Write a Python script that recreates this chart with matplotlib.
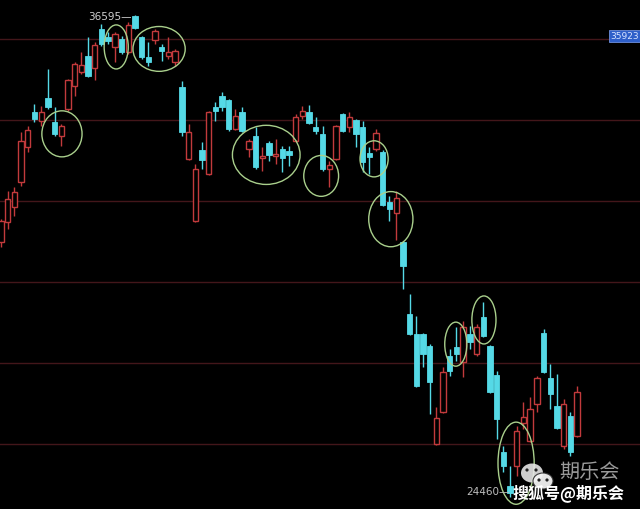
import matplotlib

matplotlib.use("Agg")
import matplotlib.pyplot as plt
from matplotlib.patches import Rectangle, Ellipse

plt.rcParams["font.family"] = ["Noto Sans CJK SC", "DejaVu Sans"]

# daily bars (price units)
OPEN = [30870, 31380, 31760, 32390, 33270, 34150, 33920, 34500, 33900, 33550,
        34230, 34810, 35160, 35560, 35260, 36240, 36040, 35790, 35990, 35660,
        36570, 36040, 35540, 35960, 35790, 35560, 35410, 34780, 32970, 31400,
        33190, 32590, 34280, 34550, 34450, 33720, 34150, 33220, 33550, 32990,
        33370, 33040, 33220, 33170, 33420, 34050, 34150, 33770, 33600, 32710,
        32970, 34100, 33770, 33950, 33770, 33120, 33220, 33140, 31880, 31610,
        30870, 29060, 28560, 28560, 28250, 25780, 26590, 28000, 28230, 27850,
        28560, 28050, 28980, 28250, 27520, 25580, 24730, 25230, 26310, 25860,
        26790, 28580, 27450, 26740, 25730, 26490, 25990]
HIGH = [31450, 32160, 32260, 33650, 33800, 34350, 34300, 35230, 34280, 33850,
        34980, 35410, 35660, 36040, 35910, 36370, 36170, 36170, 36070, 36420,
        36595, 36070, 35910, 36240, 35860, 36040, 35740, 34930, 33850, 32840,
        33390, 34180, 34400, 34650, 34480, 34230, 34280, 33470, 33770, 33270,
        33420, 33470, 33290, 33290, 34100, 34300, 34330, 34020, 33800, 32920,
        33820, 34120, 34150, 33970, 33920, 33270, 33720, 33190, 32030, 32160,
        30900, 29560, 29010, 28580, 28300, 26720, 27720, 28180, 28730, 28880,
        28760, 28810, 29360, 28270, 27620, 25730, 25230, 26240, 26840, 26970,
        27500, 28680, 27800, 27550, 26920, 26590, 27250]
LOW = [30750, 31200, 31530, 32290, 33140, 33900, 33800, 34230, 33550, 33290,
       34180, 34550, 35110, 35030, 34960, 35810, 35860, 35410, 35610, 35610,
       36240, 35490, 35310, 35860, 35440, 35490, 35310, 33550, 32950, 31380,
       32710, 32560, 33920, 34180, 33670, 33700, 33650, 33020, 32710, 32660,
       32920, 32840, 32640, 32790, 33390, 33970, 33850, 33600, 32660, 32260,
       32950, 33650, 33650, 33270, 32640, 32590, 33170, 31780, 31400, 30920,
       29690, 28540, 27230, 27720, 26540, 25760, 26570, 27500, 27880, 27470,
       28180, 28000, 28490, 27070, 25910, 25080, 24460, 24980, 26160, 25840,
       26590, 27580, 26670, 26160, 25660, 25480, 25960]
CLOSE = [31400, 31960, 32130, 33420, 33700, 33970, 34150, 34280, 33600, 33800,
         34960, 35360, 35330, 35060, 35840, 35860, 35940, 36120, 35660, 36340,
         36270, 35540, 35410, 36190, 35690, 35660, 35690, 33650, 33650, 32710,
         32940, 34150, 34180, 34280, 33720, 34050, 33670, 33420, 32760, 33040,
         33070, 33090, 32990, 33070, 34020, 34180, 33870, 33670, 32710, 32810,
         33800, 33670, 34020, 33600, 32890, 33020, 33620, 31810, 31710, 31980,
         30270, 28560, 27250, 28050, 27350, 26440, 27600, 27620, 28050, 28730,
         28350, 28730, 28510, 27090, 26410, 25230, 24550, 26110, 26460, 26670,
         27450, 27600, 27040, 26190, 26790, 25580, 27090]

GRID_LEVELS = [35990, 33950, 31910, 29870, 27830, 25790]
TAG_PRICE = 35923

# hand-drawn marks on the original: (centre bar, centre price, bars wide, price tall)
CIRCLES = [(9.1, 33600, 6.0, 1160), (17.2, 35790, 3.6, 1110),
           (23.6, 35740, 7.8, 1130), (39.6, 33070, 10.1, 1490),
           (47.8, 32540, 5.2, 1030), (55.7, 32970, 4.2, 910),
           (58.2, 31450, 6.6, 1390), (67.9, 28300, 3.3, 1110),
           (72.1, 28910, 3.6, 1210), (76.9, 25300, 5.4, 2070)]

UP = "#c23a3c"
DOWN = "#55d9e6"
BODY_W = 0.8

fig = plt.figure(figsize=(6.4, 5.1), dpi=100, facecolor="black")
ax = fig.add_axes([0, 0, 1, 1])
ax.set_facecolor("black")
ax.set_xlim(-0.15, 95.4)
ax.set_ylim(24146, 36998)
ax.axis("off")

for g in GRID_LEVELS:
    ax.axhline(g, color="#43161a", lw=1.0, zorder=1)

for i, (o, h, l, c) in enumerate(zip(OPEN, HIGH, LOW, CLOSE)):
    lo, hi = min(o, c), max(o, c)
    if c >= o:
        ax.vlines(i, l, lo, color=UP, lw=1.0, zorder=2)
        ax.vlines(i, hi, h, color=UP, lw=1.0, zorder=2)
        ax.add_patch(Rectangle((i - BODY_W / 2, lo), BODY_W, max(hi - lo, 20),
                               facecolor="black", edgecolor=UP, lw=1.0, zorder=3))
    else:
        ax.vlines(i, l, h, color=DOWN, lw=1.0, zorder=2)
        ax.add_patch(Rectangle((i - BODY_W / 2, lo), BODY_W, max(hi - lo, 20),
                               facecolor=DOWN, edgecolor=DOWN, lw=0.6, zorder=3))

for cx, cy, w, h in CIRCLES:
    ax.add_patch(Ellipse((cx, cy), w, h, fill=False, edgecolor="#a9cf8c",
                         lw=1.0, zorder=4))

# high / low markers
i_hi = HIGH.index(max(HIGH))
i_lo = LOW.index(min(LOW))
ax.text(i_hi - 0.5, max(HIGH) - 30, f"{max(HIGH)}—", ha="right", va="center",
        color="#cfcfcf", fontsize=7.5, family="DejaVu Sans", zorder=5)
ax.text(i_lo - 0.1, min(LOW) + 130, f"{min(LOW)}—", ha="right", va="center",
        color="#bdbdbd", fontsize=7.5, family="DejaVu Sans", zorder=5)

ax.text(95.2, TAG_PRICE + 150, str(TAG_PRICE), ha="right", va="center",
        color="#d8e4ff", fontsize=6.5, family="DejaVu Sans", zorder=5,
        bbox=dict(boxstyle="square,pad=0.15", facecolor="#2e5fc9",
                  edgecolor="#6f8fdc", lw=0.6))

# watermark layer in pixel space
wm = fig.add_axes([0, 0, 1, 1])
wm.set_xlim(0, 640)
wm.set_ylim(510, 0)
wm.axis("off")
wm.patch.set_alpha(0)
wm.add_patch(Ellipse((532, 474), 22, 19, facecolor="#e6e6e6", edgecolor="none",
                     alpha=0.9, zorder=6))
wm.add_patch(Ellipse((543, 482), 20, 16, facecolor="#f2f2f2", edgecolor="#333333",
                     lw=0.8, alpha=0.95, zorder=7))
for ex, ey in [(527, 471), (536, 471), (539, 481), (547, 481)]:
    wm.add_patch(Ellipse((ex, ey), 3.2, 3.2, facecolor="#222222", zorder=8))
wm.text(589, 473, "期乐会", ha="center", va="center", color="#9a9a9a",
        fontsize=14.5, zorder=6)
wm.text(569, 493, "搜狐号@期乐会", ha="center", va="center", color="white",
        fontsize=11.5, fontweight="bold", zorder=9)

fig.savefig("out.png", dpi=100, facecolor="black")
